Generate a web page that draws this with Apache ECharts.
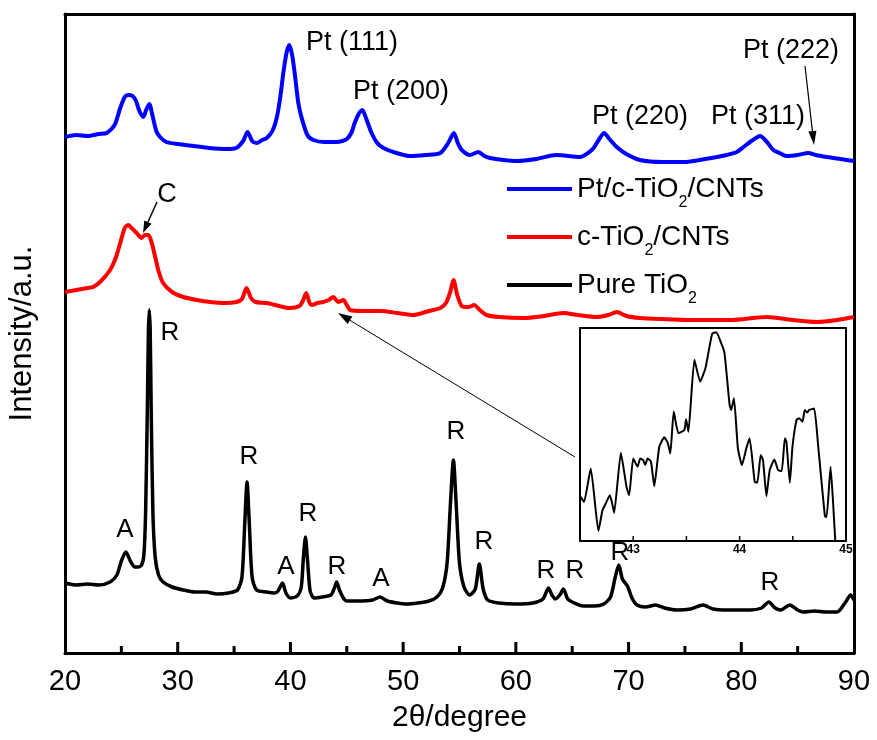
<!DOCTYPE html>
<html>
<head>
<meta charset="utf-8">
<script src="https://cdn.jsdelivr.net/npm/echarts@6/dist/echarts.min.js"></script>
<style>
html,body{margin:0;padding:0;background:#fff}
#chart{width:877px;height:740px}
</style>
</head>
<body>
<div id="chart"></div>
<script>
// 2theta / intensity (a.u.)
var pureTiO2 = [
	[20,70],[21,68],[22,69],[23,68],[24,71],[24.6,78],[25.0,92],[25.4,101],[25.8,92],[26.2,86],[26.5,86],
	[26.8,88],[27.0,98],[27.15,140],[27.3,240],[27.4,322],[27.48,343],[27.56,322],[27.65,240],[27.8,140],
	[28.0,96],[28.3,78],[28.7,71],[29.5,66],[30.5,63],[31.5,61],[32.5,61],[33.5,59],[34.5,60],[35.3,63],
	[35.7,76],[35.95,130],[36.15,171],[36.35,130],[36.6,76],[37.0,63],[37.9,61],[38.6,60],[38.9,62],[39.3,70],
	[39.6,60],[40.0,55],[40.6,57],[40.95,65],[41.15,95],[41.33,116],[41.5,95],[41.75,62],[42.1,55],[42.8,56],
	[43.6,58],[43.9,65],[44.1,71],[44.35,63],[44.7,55],[45.0,52],[46.0,52],[47.3,53],[47.95,56],[48.6,52],
	[49.5,50],[50.3,49],[51.3,50],[52.3,52],[53.0,56],[53.5,65],[53.9,90],[54.2,150],[54.46,193],[54.7,150],
	[55.0,90],[55.4,66],[55.9,58],[56.4,64],[56.76,89],[57.1,64],[57.5,53],[58.5,50],[60.0,49],[61.5,50],
	[62.4,54],[62.89,65],[63.2,58],[63.5,54],[63.9,58],[64.22,64],[64.6,54],[65.0,51],[66.0,47],[67.0,47],
	[67.8,49],[68.4,56],[68.8,75],[69.13,88],[69.45,74],[69.9,67],[70.3,55],[70.75,48],[71.5,46],[72.4,48],
	[73.2,45],[74.3,43],[75.5,44],[76.6,48],[77.5,44],[78.5,43],[79.6,43],[80.8,43],[81.8,45],[82.44,51],
	[83.0,45],[83.5,43],[84.3,48],[85.0,43],[85.5,41],[86.5,42],[87.5,41],[88.5,41],[89.2,50],[89.7,58],[90,53]
];
var cTiO2CNTs = [
	[20,361],[21,363],[22,365],[22.5,366],[23.2,372],[24.0,383],[24.5,395],[24.9,410],[25.3,425],[25.6,428],
	[26.0,424],[26.36,420],[26.8,415],[27.1,418],[27.4,418],[27.7,410],[28.0,396],[28.3,382],[28.7,370],[29.5,361],
	[30.5,356],[31.7,353],[32.9,351],[34.2,350],[35.2,351],[35.7,354],[36.1,365],[36.5,355],[36.9,351],[37.9,350],
	[39.0,347],[39.96,345],[40.8,347],[41.1,352],[41.4,360],[41.7,350],[41.9,348],[42.4,350],[42.9,351],[43.4,353],
	[43.8,356],[44.25,351],[44.7,353],[45.0,348],[45.3,343],[46.5,342],[48.0,342],[49.5,340],[50.9,338],[52.3,342],
	[53.3,345],[53.8,350],[54.2,362],[54.46,373],[54.8,358],[55.2,347],[55.8,346],[56.3,348],[56.8,343],[57.4,338],
	[58.5,336],[60.7,335],[62.5,337],[64.2,340],[65.5,338],[67.2,336],[68.2,338],[68.95,341],[69.8,337],[71.0,335],
	[73.0,334],[76.3,333],[79.0,333],[82.3,336],[84.5,333],[86.7,331],[88.5,333],[90,336]
];
var ptTiO2CNTs = [
	[20,516],[21,518],[22,517],[23,519],[23.7,520],[24.4,528],[24.9,545],[25.3,556],[25.6,558],[26.0,557],
	[26.3,552],[26.6,542],[26.95,536],[27.2,543],[27.48,549],[27.75,538],[28.1,522],[28.43,516],[29.0,511],[30.0,509],
	[31.4,507],[32.8,505],[34.35,504],[35.2,505],[35.8,512],[36.2,521],[36.6,512],[37.0,510],[37.5,513],[37.9,515],
	[38.4,522],[38.8,536],[39.1,556],[39.37,580],[39.65,600],[39.9,608],[40.15,598],[40.4,578],[40.7,550],[41.0,535],
	[41.5,518],[42.03,513],[43.0,511],[44.1,511],[44.6,512],[45.0,514],[45.4,520],[45.7,530],[46.1,540],[46.38,543],
	[46.7,535],[47.2,520],[47.7,510],[48.25,505],[49.4,500],[50.6,497],[52.0,498],[53.3,500],[54.0,510],[54.5,520],
	[54.85,510],[55.2,503],[55.94,498],[56.67,501],[57.2,497],[57.7,495],[58.9,493],[60.1,492],[61.8,494],[63.6,498],
	[65.7,496],[66.4,500],[66.9,505],[67.4,514],[67.83,520],[68.3,514],[68.95,506],[69.8,499],[71.0,493],[73.0,491],
	[74.9,491],[76.8,494],[78.7,498],[79.6,501],[80.2,506],[80.9,512],[81.67,517],[82.2,512],[82.85,503],[83.4,500],
	[84.0,497],[85.0,498],[85.95,500],[86.6,498],[87.6,496],[88.8,494],[90,492]
];
// inset: c-TiO2/CNTs, 42.5 - 45
var insetData = [
	[42.506,132],[42.538,117],[42.601,217],[42.673,30],[42.711,92],[42.742,112],[42.780,137],[42.799,117],
	[42.821,84],[42.884,264],[42.937,162],[42.962,137],[43.000,247],[43.041,222],[43.066,247],[43.094,242],
	[43.113,227],[43.135,247],[43.167,237],[43.198,164],[43.245,282],[43.292,310],[43.324,294],[43.349,262],
	[43.381,387],[43.425,322],[43.481,332],[43.497,364],[43.519,327],[43.575,542],[43.629,477],[43.679,517],
	[43.742,620],[43.780,624],[43.827,592],[43.858,562],[43.906,407],[43.921,392],[43.947,427],[43.984,277],
	[44.022,227],[44.063,277],[44.094,307],[44.142,177],[44.167,175],[44.198,257],[44.220,242],[44.252,134],
	[44.283,212],[44.327,244],[44.362,212],[44.396,209],[44.425,307],[44.440,297],[44.472,174],[44.497,282],
	[44.535,362],[44.560,367],[44.591,357],[44.613,392],[44.635,384],[44.654,392],[44.701,396],[44.739,282],
	[44.802,74],[44.818,72],[44.855,222],[44.881,102],[44.899,2],[44.92,-60]
];
// tick positions on the two 2theta axes
var mainTicks = [25,30,35,40,45,50,55,60,65,70,75,80,85];
var insetTicks = [43,43.5,44,44.5];
var seriesNames = ['Pt/c-TiO2/CNTs','c-TiO2/CNTs','Pure TiO2'];
var legendText = {
	'Pt/c-TiO2/CNTs':'{a|Pt/c-TiO}{s|2}{a|/CNTs}',
	'c-TiO2/CNTs':'{a|c-TiO}{s|2}{a|/CNTs}',
	'Pure TiO2':'{a|Pure TiO}{s|2}'
};
var peakText = ['Pt (111)','Pt (200)','Pt (220)','Pt (311)','Pt (222)','C'];
var phaseText = ['A','R','R','A','R','R','A','R','R','R','R','R','R'];

var FONT = '"Liberation Sans", Arial, sans-serif';
var MAIN = {left:65, top:14, width:789, height:639, xmin:20, xmax:90};
var INSET = {left:580, top:328, width:266, height:213, xmin:42.5, xmax:45};

function txt(s,x,y,size){
	return {
		type:'text', z:100,
		style:{text:s,x:x,y:y,font:size+'px '+FONT,fill:'#000',
			align:'center',verticalAlign:'middle',textAlign:'center',textVerticalAlign:'middle'}
	};
}

function arrow(x1,y1,x2,y2,len,half,w){
	var dx = x2-x1, dy = y2-y1, d = Math.sqrt(dx*dx+dy*dy);
	var ux = dx/d, uy = dy/d;
	var bx = x2-ux*len, by = y2-uy*len;
	return [
		{type:'line',z:100,shape:{x1:x1,y1:y1,x2:bx,y2:by},style:{stroke:'#000',lineWidth:w}},
		{type:'polygon',z:100,shape:{points:[[x2,y2],[bx-uy*half,by+ux*half],[bx+uy*half,by-ux*half]]},style:{fill:'#000'}}
	];
}

// inward tick on the bottom edge of a grid box
function tick(g,v,len,w){
	var px = g.left + (v-g.xmin)/(g.xmax-g.xmin)*g.width;
	var py = g.top + g.height;
	return {type:'line',z:100,shape:{x1:px,y1:py,x2:px,y2:py-len},style:{stroke:'#000',lineWidth:w}};
}

// frame axis: just a line, nothing else
function frameAxis(extra,w){
	var o = {
		type:'value',
		axisLine:{show:true,onZero:false,lineStyle:{color:'#000',width:w}},
		axisTick:{show:false}, axisLabel:{show:false}, splitLine:{show:false}
	};
	for (var k in extra) o[k] = extra[k];
	return o;
}

var graphics = [
	txt(peakText[0],352,43,27),
	txt(peakText[1],401,92,27),
	txt(peakText[2],640,117,27),
	txt(peakText[3],758,117,27),
	txt(peakText[4],791,51,27),
	txt(peakText[5],167,195,27)
];
var phasePos = [[125,530],[170,333],[249,457],[286,567],[308,514],[337,567],[381,579],[456,432],[484,542],[546,571],[575,571],[620,553],[770,583]];
phaseText.forEach(function(t,i){ graphics.push(txt(t,phasePos[i][0],phasePos[i][1],26)); });
graphics = graphics.concat(arrow(805,66,814,145,14,4,1.2));
graphics = graphics.concat(arrow(157,202,143,233,12,4,1.5));
graphics = graphics.concat(arrow(575,457,338,313,14,4.5,1));
mainTicks.forEach(function(v){ graphics.push(tick(MAIN,v,(v%10===0)?11:7,3)); });
insetTicks.forEach(function(v){ graphics.push(tick(INSET,v,5,1.5)); });

var myChart = echarts.init(document.getElementById('chart'));
myChart.setOption({
	animation:false,
	grid:[
		{left:MAIN.left,top:MAIN.top,width:MAIN.width,height:MAIN.height,containLabel:false,outerBoundsMode:'none'},
		{left:INSET.left,top:INSET.top,width:INSET.width,height:INSET.height,containLabel:false,outerBoundsMode:'none'}
	],
	legend:{
		data:seriesNames,
		orient:'vertical',
		left:502, top:162,
		itemWidth:65, itemHeight:4, itemGap:4,
		icon:'rect',
		formatter:function(name){ return legendText[name]; },
		textStyle:{
			rich:{
				a:{fontSize:28,fontFamily:FONT,color:'#000',lineHeight:44},
				s:{fontSize:16,fontFamily:FONT,color:'#000',lineHeight:16,padding:[28,0,0,0]}
			}
		}
	},
	xAxis:[
		{
			type:'value', gridIndex:0, min:MAIN.xmin, max:MAIN.xmax, interval:10, position:'bottom',
			name:'2θ/degree', nameLocation:'middle', nameGap:50,
			nameTextStyle:{fontSize:30,fontFamily:FONT,color:'#000'},
			axisLine:{show:true,onZero:false,lineStyle:{color:'#000',width:3}},
			axisTick:{show:false},
			axisLabel:{fontSize:29,fontFamily:FONT,color:'#000',margin:14},
			splitLine:{show:false}
		},
		frameAxis({gridIndex:0,min:MAIN.xmin,max:MAIN.xmax,position:'top'},3),
		{
			type:'value', gridIndex:1, min:INSET.xmin, max:INSET.xmax, interval:0.5, position:'bottom',
			axisLine:{show:true,onZero:false,lineStyle:{color:'#000',width:2}},
			axisTick:{show:false},
			axisLabel:{fontSize:12,fontWeight:'bold',fontFamily:FONT,color:'#000',margin:3,
				formatter:function(v){ return (Math.abs(v-Math.round(v))<1e-6) ? String(Math.round(v)) : ''; }},
			splitLine:{show:false}
		},
		frameAxis({gridIndex:1,min:INSET.xmin,max:INSET.xmax,position:'top'},2)
	],
	yAxis:[
		frameAxis({gridIndex:0,min:0,max:639,position:'left',
			name:'Intensity/a.u.', nameLocation:'middle', nameGap:27, nameRotate:90,
			nameTextStyle:{fontSize:31,fontFamily:FONT,color:'#000'}},3),
		frameAxis({gridIndex:0,min:0,max:639,position:'right'},3),
		frameAxis({gridIndex:1,min:0,max:637,position:'left'},2),
		frameAxis({gridIndex:1,min:0,max:637,position:'right'},2)
	],
	series:[
		{name:'Pure TiO2',type:'line',xAxisIndex:0,yAxisIndex:0,data:pureTiO2,showSymbol:false,smooth:0.25,
			lineStyle:{color:'#000',width:3.5},itemStyle:{color:'#000'}},
		{name:'c-TiO2/CNTs',type:'line',xAxisIndex:0,yAxisIndex:0,data:cTiO2CNTs,showSymbol:false,smooth:0.25,
			lineStyle:{color:'#ff0000',width:4},itemStyle:{color:'#ff0000'}},
		{name:'Pt/c-TiO2/CNTs',type:'line',xAxisIndex:0,yAxisIndex:0,data:ptTiO2CNTs,showSymbol:false,smooth:0.25,
			lineStyle:{color:'#0000ff',width:4},itemStyle:{color:'#0000ff'}},
		{name:'inset',type:'line',xAxisIndex:2,yAxisIndex:2,data:insetData,showSymbol:false,smooth:0.15,z:12,
			lineStyle:{color:'#000',width:2},itemStyle:{color:'#000'}}
	],
	graphic:graphics
});
</script>
</body>
</html>
